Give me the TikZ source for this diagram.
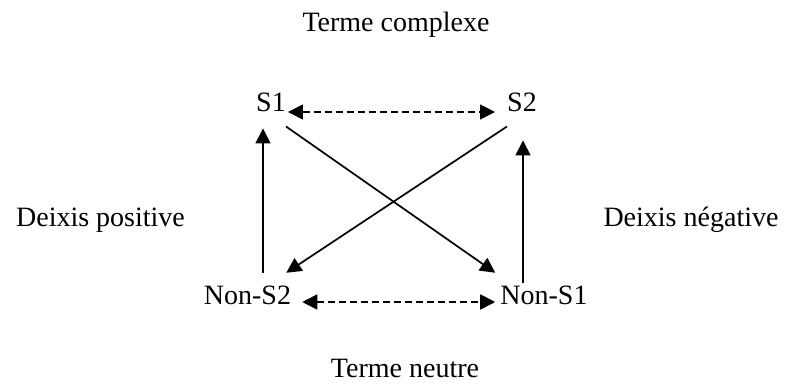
\documentclass[tikz,border=0pt]{standalone}
\usepackage{fontspec}
\setmainfont{Liberation Serif}
\usetikzlibrary{arrows.meta}
\begin{document}
\begin{tikzpicture}[x=1pt,y=-1pt,
  lbl/.style={inner sep=0pt, anchor=base, font=\fontsize{28}{30}\selectfont},
  conn/.style={line width=1.7pt, -{Triangle[length=15pt,width=15pt]}},
  dconn/.style={line width=1.7pt, dash pattern=on 7pt off 4pt,
    {Triangle[length=15pt,width=15pt]}-{Triangle[length=15pt,width=15pt]}}]
\useasboundingbox (0,0) rectangle (785,387);
\node[lbl] (tc) at (396,32) {Terme complexe};
\node[lbl] (dp) at (100.5,227) {Deixis positive};
\node[lbl] (dn) at (691,227) {Deixis négative};
\node[lbl] (tn) at (405,378) {Terme neutre};
\node[lbl] (s1) at (271,112) {S1};
\node[lbl] (s2) at (522,112) {S2};
\node[lbl] (ns2) at (247.5,305) {Non-S2};
\node[lbl] (ns1) at (544,305) {Non-S1};
% dashed contraries
\draw[dconn] ([xshift=2pt]s1.base east) -- ([xshift=-12pt]s2.base west);
\draw[dconn] ([xshift=11pt,yshift=3pt]ns2.base east) -- ([xshift=-5pt,yshift=3pt]ns1.base west);
% verticals
\draw[conn] ([xshift=15.5pt,yshift=13.5pt]ns2.north) -- ([xshift=-8pt,yshift=-16pt]s1.south);
\draw[conn] ([xshift=-21pt,yshift=3.5pt]ns1.north) -- ([xshift=1pt,yshift=-28pt]s2.south);
% diagonals
\draw[conn] ([yshift=-14pt]s1.south east) -- ([xshift=-5pt,yshift=13.5pt]ns1.north west);
\draw[conn] ([yshift=-14pt]s2.south west) -- ([xshift=-5pt,yshift=13.5pt]ns2.north east);
\end{tikzpicture}
\end{document}
